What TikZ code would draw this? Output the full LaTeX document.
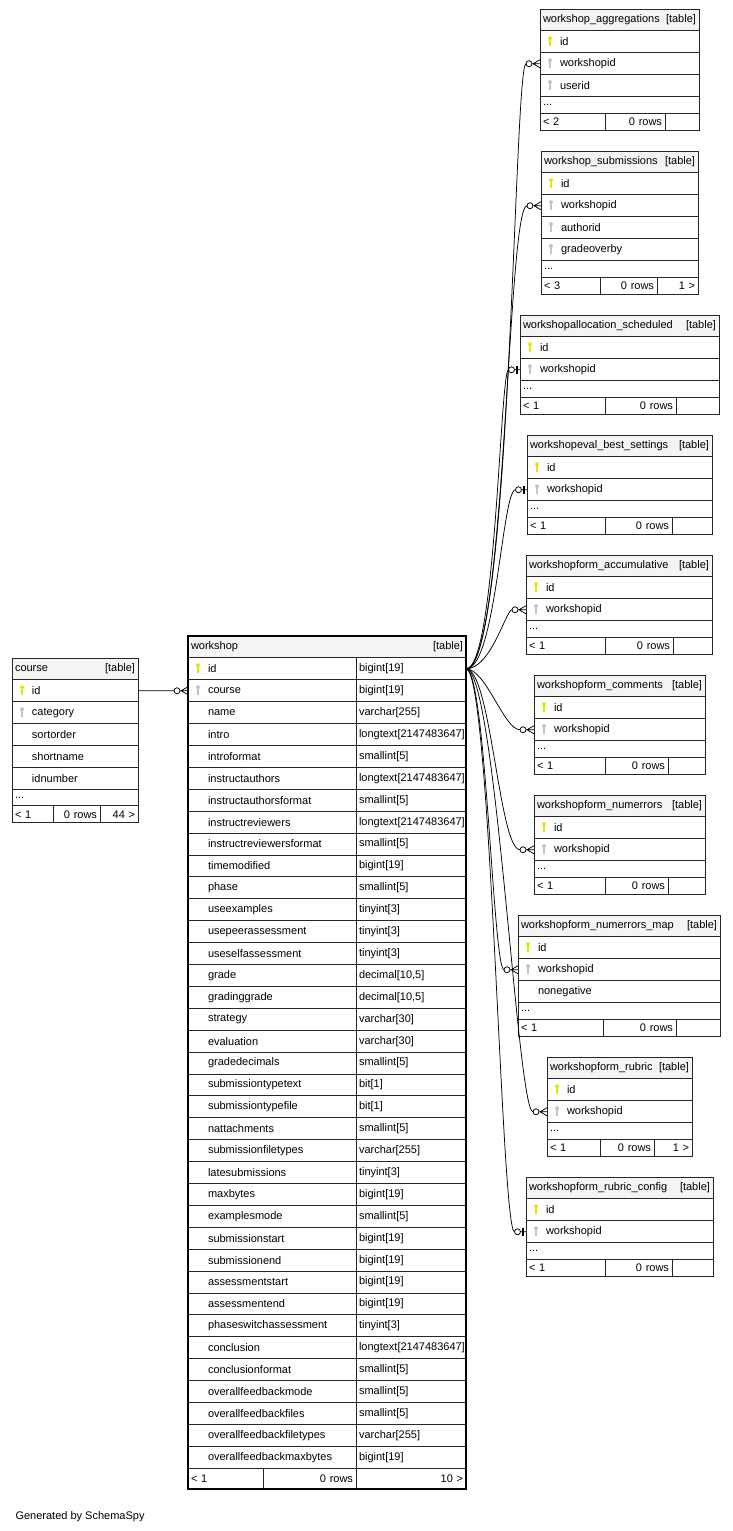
\documentclass[tikz,border=0pt]{standalone}
\usepackage{fontspec}
\setmainfont{Liberation Sans}
\usetikzlibrary{positioning}

\definecolor{headfill}{HTML}{F4F4F4}
\definecolor{pkyellow}{HTML}{E6E600}
\definecolor{fkgray}{HTML}{C4C4C4}

% zero or many: circle and crow's foot
\pgfdeclarearrow{
  name=crowo,
  setup code={
    \pgfarrowssettipend{0pt}
    \pgfarrowssetbackend{-14pt}
    \pgfarrowssetlineend{-14pt}
  },
  drawing code={
    \pgfpathcircle{\pgfpoint{-11pt}{0pt}}{3pt}
    \pgfpathmoveto{\pgfpoint{-8pt}{0pt}}
    \pgfpathlineto{\pgfpointorigin}
    \pgfpathmoveto{\pgfpoint{-7pt}{0pt}}
    \pgfpathlineto{\pgfpoint{0pt}{4pt}}
    \pgfpathmoveto{\pgfpoint{-7pt}{0pt}}
    \pgfpathlineto{\pgfpoint{0pt}{-4pt}}
    \pgfusepathqstroke
  }
}
% zero or one: circle and bar
\pgfdeclarearrow{
  name=baro,
  setup code={
    \pgfarrowssettipend{0pt}
    \pgfarrowssetbackend{-11.5pt}
    \pgfarrowssetlineend{-11.5pt}
  },
  drawing code={
    \pgfpathcircle{\pgfpoint{-8.5pt}{0pt}}{3pt}
    \pgfpathmoveto{\pgfpoint{-5.5pt}{0pt}}
    \pgfpathlineto{\pgfpointorigin}
    \pgfusepathqstroke
    \pgfpathrectangle{\pgfpoint{-3.8pt}{-4pt}}{\pgfpoint{1.6pt}{8pt}}
    \pgfusepathqfill
  }
}

\tikzset{
  cell/.style={draw=black!85, line width=0.9pt, inner xsep=3pt, inner ysep=0pt, outer sep=0pt,
    minimum height=21.9pt, align=left, font=\fontsize{11pt}{13pt}\selectfont},
  head/.style={cell, fill=headfill, anchor=north west},
  keyicon/.style={path picture={
    \fill[#1] ([xshift=10pt,yshift=3.6pt]path picture bounding box.west) circle (2pt);
    \draw[#1, line width=1.3pt] ([xshift=10pt,yshift=3pt]path picture bounding box.west) -- ++(0,7.5);
  }},
  field/.style={cell, execute at begin node={\hspace*{17pt}}},
  pk/.style={field, keyicon=pkyellow},
  fk/.style={field, keyicon=fkgray},
  dtype/.style={cell, text width=104pt},
  more/.style={cell, minimum height=16.5pt},
  foot/.style={cell, minimum height=17pt},
  footr/.style={foot, align=right},
  rel/.style={draw, line width=0.75pt, -crowo, out=0, in=180},
  relone/.style={rel, -baro},
}

\begin{document}
\begin{tikzpicture}[x=1pt, y=-1pt]
\useasboundingbox (0,0) rectangle (732,1531);

% course
\begin{scope}[every node/.append style={text width=120pt}]
\node[head] (crs) at (12,658) {course\hfill[table]};
\node[pk, below=0pt of crs] (crs-id) {id};
\node[fk, below=0pt of crs-id] (crs-category) {category};
\node[field, below=0pt of crs-category] (crs-sortorder) {sortorder};
\node[field, below=0pt of crs-sortorder] (crs-shortname) {shortname};
\node[field, below=0pt of crs-shortname] (crs-idnumber) {idnumber};
\node[more, below=0pt of crs-idnumber] (crs-more) {...};
\node[foot, text width=35pt, below right=0pt of crs-more.south west] (crs-f1) {< 1};
\node[footr, text width=41pt, right=0pt of crs-f1] (crs-f2) {0 rows};
\node[footr, text width=32pt, right=0pt of crs-f2] (crs-f3) {44 >};
\end{scope}

% workshop
\node[head, text width=272pt] (ws) at (188,636) {workshop\hfill[table]};
\node[pk, text width=162pt, below right=0pt of ws.south west] (ws-id) {id};
\node[dtype, right=0pt of ws-id] (ws-id-type) {bigint[19]};
\node[fk, text width=162pt, below=0pt of ws-id] (ws-course) {course};
\node[dtype, right=0pt of ws-course] (ws-course-type) {bigint[19]};
\foreach \fld/\ftype [remember=\fld as \prev (initially course)] in {
    name/varchar[255], intro/longtext[2147483647], introformat/smallint[5],
    instructauthors/longtext[2147483647], instructauthorsformat/smallint[5],
    instructreviewers/longtext[2147483647], instructreviewersformat/smallint[5],
    timemodified/bigint[19], phase/smallint[5], useexamples/tinyint[3],
    usepeerassessment/tinyint[3], useselfassessment/tinyint[3],
    grade/{decimal[10,5]}, gradinggrade/{decimal[10,5]}, strategy/varchar[30],
    evaluation/varchar[30], gradedecimals/smallint[5], submissiontypetext/bit[1],
    submissiontypefile/bit[1], nattachments/smallint[5],
    submissionfiletypes/varchar[255], latesubmissions/tinyint[3],
    maxbytes/bigint[19], examplesmode/smallint[5], submissionstart/bigint[19],
    submissionend/bigint[19], assessmentstart/bigint[19],
    assessmentend/bigint[19], phaseswitchassessment/tinyint[3],
    conclusion/longtext[2147483647], conclusionformat/smallint[5],
    overallfeedbackmode/smallint[5], overallfeedbackfiles/smallint[5],
    overallfeedbackfiletypes/varchar[255], overallfeedbackmaxbytes/bigint[19]}{
  \node[field, text width=162pt, below=0pt of ws-\prev] (ws-\fld) {\fld};
  \node[dtype, right=0pt of ws-\fld] (ws-\fld-type) {\ftype};
}
\node[foot, minimum height=21pt, text width=69pt, below right=0pt of ws-overallfeedbackmaxbytes.south west] (ws-f1) {< 1};
\node[footr, minimum height=21pt, text width=87pt, right=0pt of ws-f1] (ws-f2) {0 rows};
\node[footr, minimum height=21pt, text width=104pt, right=0pt of ws-f2] (ws-f3) {10 >};
\draw[line width=2.4pt] (ws.north west) rectangle (ws-f3.south east);

% workshop_aggregations
\begin{scope}[every node/.append style={text width=153pt}]
\node[head] (agg) at (540,9) {workshop\_aggregations\hfill[table]};
\node[pk, below=0pt of agg] (agg-id) {id};
\node[fk, below=0pt of agg-id] (agg-wid) {workshopid};
\node[fk, below=0pt of agg-wid] (agg-uid) {userid};
\node[more, below=0pt of agg-uid] (agg-more) {...};
\node[foot, text width=59pt, below right=0pt of agg-more.south west] (agg-f1) {< 2};
\node[footr, text width=54pt, right=0pt of agg-f1] (agg-f2) {0 rows};
\node[footr, text width=28pt, right=0pt of agg-f2] (agg-f3) {};
\end{scope}

% workshop_submissions
\begin{scope}[every node/.append style={text width=151pt}]
\node[head] (sub) at (541,151) {workshop\_submissions\hfill[table]};
\node[pk, below=0pt of sub] (sub-id) {id};
\node[fk, below=0pt of sub-id] (sub-wid) {workshopid};
\node[fk, below=0pt of sub-wid] (sub-aid) {authorid};
\node[fk, below=0pt of sub-aid] (sub-gby) {gradeoverby};
\node[more, below=0pt of sub-gby] (sub-more) {...};
\node[foot, text width=53pt, below right=0pt of sub-more.south west] (sub-f1) {< 3};
\node[footr, text width=51pt, right=0pt of sub-f1] (sub-f2) {0 rows};
\node[footr, text width=35pt, right=0pt of sub-f2] (sub-f3) {1 >};
\end{scope}

% workshopform_numerrors_map
\begin{scope}[every node/.append style={text width=196pt}]
\node[head] (nmap) at (518,915) {workshopform\_numerrors\_map\hfill[table]};
\node[pk, below=0pt of nmap] (nmap-id) {id};
\node[fk, below=0pt of nmap-id] (nmap-wid) {workshopid};
\node[field, below=0pt of nmap-wid] (nmap-neg) {nonegative};
\node[more, below=0pt of nmap-neg] (nmap-more) {...};
\node[foot, text width=79pt, below right=0pt of nmap-more.south west] (nmap-f1) {< 1};
\node[footr, text width=67pt, right=0pt of nmap-f1] (nmap-f2) {0 rows};
\node[footr, text width=38pt, right=0pt of nmap-f2] (nmap-f3) {};
\end{scope}

% tables with id and workshopid only
\foreach \tb/\ttl/\x/\y/\w/\fa/\fb/\fc/\fnext in {
    alloc/workshopallocation\_scheduled/520/315/193/79/65/37/{},
    best/workshopeval\_best\_settings/527/435/179/72/61/34/{},
    accum/workshopform\_accumulative/526/555/180/73/62/33/{},
    cmt/workshopform\_comments/534/675/165/65/57/31/{},
    nerr/workshopform\_numerrors/534/795/165/65/57/31/{},
    rubric/workshopform\_rubric/547/1057/139/47/48/32/{1 >},
    rconf/workshopform\_rubric\_config/526/1177/181/73/61/35/{}}{
  \node[head, text width=\w pt] (\tb) at (\x,\y) {\ttl\hfill[table]};
  \node[pk, text width=\w pt, below=0pt of \tb] (\tb-id) {id};
  \node[fk, text width=\w pt, below=0pt of \tb-id] (\tb-wid) {workshopid};
  \node[more, text width=\w pt, below=0pt of \tb-wid] (\tb-more) {...};
  \node[foot, text width=\fa pt, below right=0pt of \tb-more.south west] (\tb-f1) {< 1};
  \node[footr, text width=\fb pt, right=0pt of \tb-f1] (\tb-f2) {0 rows};
  \node[footr, text width=\fc pt, right=0pt of \tb-f2] (\tb-f3) {\fnext};
}

% relations
\draw[rel] (crs-id.east) -- (ws-course.west);
\path (ws-id-type.east)
  edge[rel, out distance=45pt, in distance=26pt] (agg-wid.west)
  edge[rel, out distance=40pt, in distance=34pt] (sub-wid.west)
  edge[relone, out distance=30pt, in distance=20pt] (alloc-wid.west)
  edge[relone, out distance=30pt, in distance=25pt] (best-wid.west)
  edge[rel, out distance=25pt, in distance=20pt] (accum-wid.west)
  edge[rel, out distance=20pt, in distance=30pt] (cmt-wid.west)
  edge[rel, out distance=25pt, in distance=35pt] (nerr-wid.west)
  edge[rel, out distance=20pt, in distance=25pt] (nmap-wid.west)
  edge[rel, out distance=30pt, in distance=30pt] (rubric-wid.west)
  edge[relone, out distance=25pt, in distance=25pt] (rconf-wid.west);

\node[anchor=west, font=\fontsize{11pt}{13pt}\selectfont] (credit) at (12,1517) {Generated by SchemaSpy};
\end{tikzpicture}
\end{document}
